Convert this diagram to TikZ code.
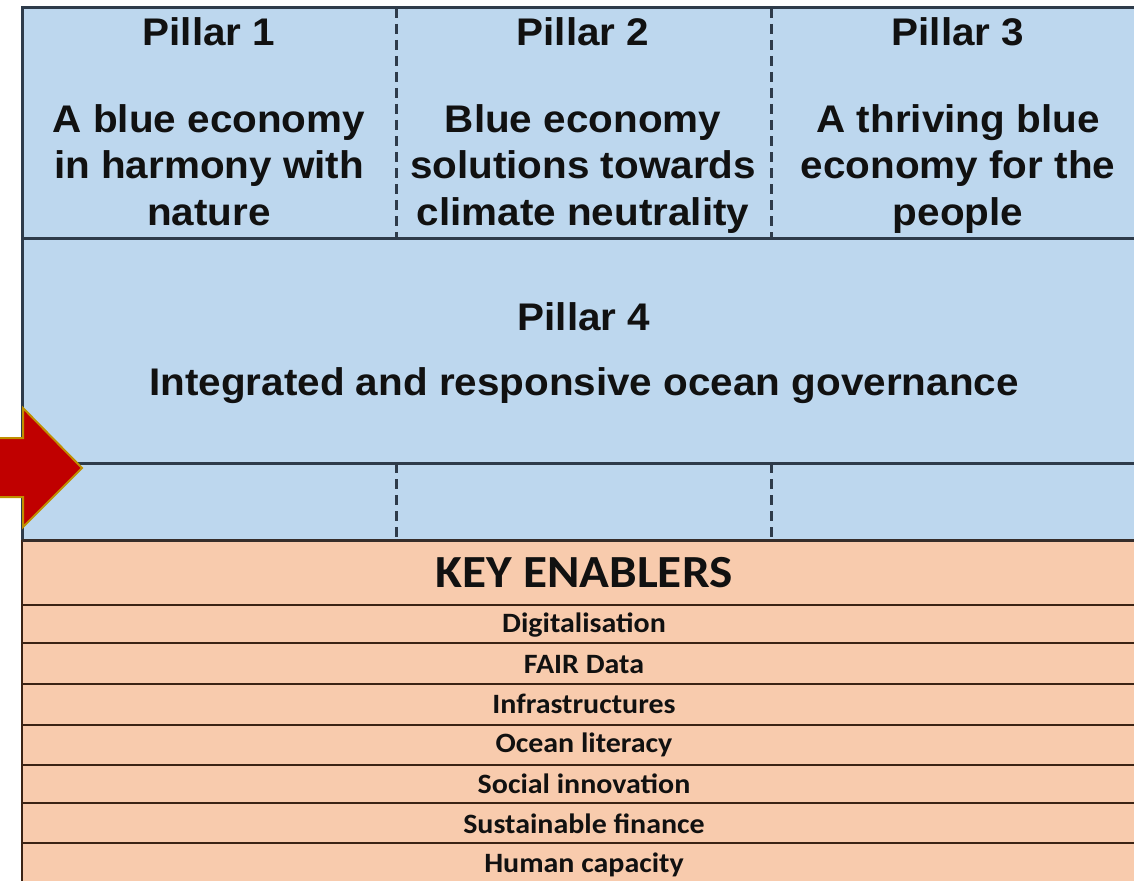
\documentclass[tikz,border=0pt]{standalone}
\usepackage{fontspec}
\setmainfont{Liberation Sans}
\newfontfamily\arialw[FakeStretch=1.05]{Liberation Sans}
\newfontfamily\calibri[FakeStretch=1.07]{Carlito}
\definecolor{pblue}{HTML}{BDD7EE}
\definecolor{pora}{HTML}{F8CBAD}
\definecolor{bline}{HTML}{2E3B4A}
\definecolor{oline}{HTML}{3B2314}
\definecolor{arrred}{HTML}{C00000}
\definecolor{arrgold}{HTML}{BF8F00}
\definecolor{txt}{HTML}{111111}
\begin{document}
\begin{tikzpicture}[x=1pt,y=-1pt,
  pill/.style={anchor=base, inner sep=0pt, text=txt, font=\arialw\fontsize{38.5}{46}\selectfont\bfseries},
  keyen/.style={anchor=base, inner sep=0pt, text=txt, font=\calibri\fontsize{46}{50}\selectfont\bfseries},
  enab/.style={anchor=base, inner sep=0pt, text=txt, font=\calibri\fontsize{28}{30}\selectfont\bfseries},
  bsolid/.style={draw=bline, line width=3pt},
  osolid/.style={draw=oline, line width=2.8pt},
  bdash/.style={draw=bline, line width=3pt, dash pattern=on 10pt off 6pt}]
\useasboundingbox (0,0) rectangle (1134,880);
\clip (0,0) rectangle (1134,880);
% backgrounds
\fill[pblue] (22,8) rectangle (1150,540);
\fill[pora] (22,540) rectangle (1150,890);
% coordinates
\coordinate (tl) at (22,8);
\coordinate (tr) at (1150,8);
\coordinate (ml) at (22,540);
\coordinate (bl) at (22,890);
\foreach \y/\n in {238/h1,463/h2,540/h3,605/h4,643/h5,684/h6,725/h7,765/h8,803/h9,843/h10}{
  \coordinate (\n l) at (22,\y); \coordinate (\n r) at (1150,\y);}
\coordinate (d1a) at (396,8);   \coordinate (d1b) at (396,238);
\coordinate (d2a) at (771,8);   \coordinate (d2b) at (771,238);
\coordinate (d3a) at (396,463); \coordinate (d3b) at (396,540);
\coordinate (d4a) at (771,463); \coordinate (d4b) at (771,540);
% dashed dividers
\draw[bdash] (d1a) -- (d1b);
\draw[bdash] (d2a) -- (d2b);
\draw[bdash] (d3a) -- (d3b);
\draw[bdash] (d4a) -- (d4b);
% lines
\draw[bsolid] (tr) -- (tl) -- (ml);
\draw[osolid] (ml) -- (bl);
\draw[bsolid] (h1l) -- (h1r);
\draw[bsolid] (h2l) -- (h2r);
\draw[draw=oline!60!bline, line width=3pt] (h3l) -- (h3r);
\foreach \n in {h4,h5,h6,h7,h8,h9,h10}{\draw[osolid] (\n l) -- (\n r);}
% pillar texts
\node[pill] (p1t) at (209,46) {Pillar 1};
\node[pill] (p1a) at (209,132) {A blue economy};
\node[pill] (p1b) at (209,178) {in harmony with};
\node[pill] (p1c) at (209,225) {nature};
\node[pill] (p2t) at (583,46) {Pillar 2};
\node[pill] (p2a) at (583,132) {Blue economy};
\node[pill] (p2b) at (583,178) {solutions towards};
\node[pill] (p2c) at (583,225) {climate neutrality};
\node[pill] (p3t) at (958,46) {Pillar 3};
\node[pill] (p3a) at (958,132) {A thriving blue};
\node[pill] (p3b) at (958,178) {economy for the};
\node[pill] (p3c) at (958,225) {people};
\node[pill] (p4t) at (584,330) {Pillar 4};
\node[pill] (p4a) at (584,395) {Integrated and responsive ocean governance};
% enablers
\node[keyen] (ke) at (584,587) {KEY ENABLERS};
\node[enab] (e1) at (584,632) {Digitalisation};
\node[enab] (e2) at (584,673) {FAIR Data};
\node[enab] (e3) at (584,713) {Infrastructures};
\node[enab] (e4) at (584,752) {Ocean literacy};
\node[enab] (e5) at (584,793) {Social innovation};
\node[enab] (e6) at (584,833) {Sustainable finance};
\node[enab] (e7) at (584,872) {Human capacity};
% red arrow
\draw[fill=arrred, draw=arrgold, line width=2pt, line join=miter]
  (-10,438) -- (23,438) -- (23,408) -- (82,468) -- (23,527) -- (23,497) -- (-10,497) -- cycle;
\end{tikzpicture}
\end{document}
